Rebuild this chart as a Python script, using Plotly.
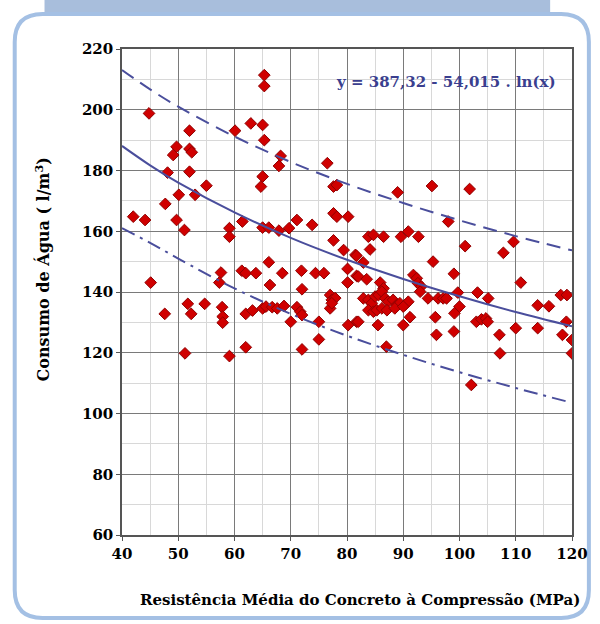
import plotly.graph_objects as go

# ---- data ----
resist = [44.8, 65.3, 65.3, 62.9, 65.0, 60.1, 65.3, 52.0, 52.0, 52.4, 49.7, 49.1, 48.1, 52.0,
          68.2, 67.9, 55.0, 50.1, 53.0, 65.0, 64.7, 47.7, 49.7, 51.1, 42.0, 44.1, 59.1, 59.1,
          61.4, 65.0, 66.1, 67.9, 69.7, 71.1, 73.8, 76.5, 77.6, 78.2, 77.6, 78.2, 80.2, 77.6,
          89.0, 95.1, 101.8, 98.0, 109.6, 83.8, 84.7, 86.5, 89.6, 90.9, 92.7,
          79.4, 81.5, 66.1, 57.6, 57.3, 61.3, 62.0, 63.8, 68.5, 71.9, 74.4, 75.9, 80.1, 80.1,
          81.7, 66.3, 72.0, 45.1, 51.7, 52.3, 47.6, 54.7, 57.8, 57.9, 57.9, 62.0, 63.2, 65.0,
          65.6, 66.7, 67.6, 68.8, 71.1, 71.7, 72.0, 70.0, 75.0, 75.0, 77.0, 77.3, 77.0, 77.9,
          80.2, 81.7, 51.2, 59.1, 62.0, 72.0,
          84.1, 81.7, 82.9, 82.0, 83.5, 85.9, 86.5, 95.3, 101.0, 107.8, 110.9, 99.0,
          91.8, 92.4, 92.6, 93.2, 93.0, 94.4, 96.2, 97.1, 97.7, 99.7, 100.0, 99.1, 103.2, 105.1,
          103.0, 103.9, 104.7, 105.0, 107.1, 107.2, 110.0, 113.9, 115.9, 113.9, 118.0, 119.1,
          119.0, 118.3, 120.0, 120.0, 102.1, 87.0, 95.9, 99.0, 90.0, 91.2, 85.5, 82.0, 95.7,
          82.9, 83.8, 84.4, 85.0, 85.6, 86.2, 86.8, 87.3, 88.2, 88.8, 89.4, 90.3, 90.9,
          83.8, 84.7, 85.3, 86.2, 87.1, 88.5, 90.0, 77.3]
consumo = [198.8, 211.4, 207.8, 195.5, 195.0, 193.1, 190.0, 193.1, 187.1, 186.0, 187.8, 185.1, 179.3, 179.6,
           184.8, 181.5, 175.0, 172.0, 172.0, 178.0, 174.7, 169.0, 163.7, 160.4, 164.8, 163.7, 161.0, 158.2,
           163.2, 161.2, 161.2, 160.2, 161.0, 163.7, 162.1, 182.4, 174.7, 175.2, 165.9, 164.8, 164.8, 157.0,
           172.8, 174.9, 173.9, 163.2, 156.5, 158.2, 158.8, 158.2, 158.2, 159.9, 158.2,
           153.8, 152.2, 149.8, 146.4, 143.1, 147.0, 146.2, 146.2, 146.2, 147.0, 146.2, 146.2, 147.6, 143.1,
           145.3, 142.3, 140.9, 143.1, 136.1, 132.8, 132.8, 136.1, 135.0, 131.9, 129.9, 132.8, 133.9, 134.6,
           135.2, 135.0, 134.6, 135.4, 135.0, 133.5, 132.4, 130.2, 130.2, 124.4, 139.0, 137.4, 134.6, 138.0,
           129.1, 130.2, 119.8, 118.9, 121.8, 121.1,
           154.0, 151.9, 149.7, 145.1, 144.2, 143.1, 141.2, 150.0, 155.1, 152.9, 143.1, 146.0,
           145.6, 144.5, 142.9, 141.8, 140.1, 137.9, 137.9, 137.9, 137.9, 139.8, 135.2, 133.0, 139.8, 137.9,
           130.2, 131.0, 131.3, 130.2, 125.9, 119.8, 128.1, 135.6, 135.3, 128.1, 139.0, 139.0,
           130.2, 125.9, 124.2, 119.8, 109.4, 122.0, 125.9, 127.0, 129.1, 131.7, 129.1, 130.2, 131.7,
           137.9, 137.4, 136.3, 138.5, 139.0, 140.1, 137.9, 136.8, 137.4, 135.7, 136.3, 135.7, 136.8,
           134.0, 133.5, 134.0, 134.6, 134.0, 134.6, 135.2, 136.3]

curve_x = [40, 45, 50, 60, 70, 80, 90, 100, 110, 120]
fit_y = [188.1, 181.7, 176.0, 166.2, 157.8, 150.6, 144.3, 138.6, 133.4, 128.7]
upper_y = [213.1, 206.7, 201.0, 191.2, 182.8, 175.6, 169.3, 163.6, 158.4, 153.7]
lower_x = [40, 45, 50, 60, 70, 80, 90, 100, 110, 119]
lower_y = [161.0, 156.2, 151.0, 141.2, 132.8, 125.6, 119.3, 113.6, 108.4, 104.0]

x_ticks = [40, 50, 60, 70, 80, 90, 100, 110, 120]
y_ticks = [60, 80, 100, 120, 140, 160, 180, 200, 220]

equation = "y = 387,32 - 54,015 . ln(x)"
x_title = "Resistência Média do Concreto à Compressão (MPa)"
y_title = "Consumo de Água ( l/m<sup>3</sup>)"

# ---- figure ----
W, H = 600, 624
ML, MR, MT, MB = 122, 25, 49, 89
PW, PH = W - ML - MR, H - MT - MB


def px(x):
    return (x - ML) / PW


def py(y):
    return (H - MB - y) / PH


LINE = "#4a4e9c"
SERIF = "DejaVu Serif"

fig = go.Figure()
fig.add_trace(go.Scatter(
    x=resist, y=consumo, mode="markers",
    marker=dict(symbol="diamond", size=9, color="#d00000",
                line=dict(color="#900000", width=1)),
    hoverinfo="x+y", showlegend=False))
fig.add_trace(go.Scatter(x=curve_x, y=upper_y, mode="lines", line_shape="spline",
                         line=dict(color=LINE, width=2, dash="14px,8px"), showlegend=False))
fig.add_trace(go.Scatter(x=curve_x, y=fit_y, mode="lines", line_shape="spline",
                         line=dict(color=LINE, width=2), showlegend=False))
fig.add_trace(go.Scatter(x=lower_x, y=lower_y, mode="lines", line_shape="spline",
                         line=dict(color=LINE, width=2, dash="14px,6px,3px,6px"), showlegend=False))

tickfont = dict(family=SERIF, size=15, color="black", weight="bold")
fig.update_xaxes(range=[40, 120], tickvals=x_ticks, ticktext=[str(v) for v in x_ticks],
                 tickfont=tickfont, showgrid=True, gridcolor="#7a7a7a", gridwidth=1.2,
                 showline=True, linecolor="#555", linewidth=1.5, mirror=True,
                 ticks="outside", ticklen=4, tickcolor="#555",
                 minor=dict(dtick=5, tick0=40, showgrid=True, gridcolor="#d8d8d8", gridwidth=1),
                 zeroline=False, fixedrange=True)
fig.update_yaxes(range=[60, 220], tickvals=y_ticks, ticktext=[str(v) for v in y_ticks],
                 tickfont=tickfont, showgrid=True, gridcolor="#7a7a7a", gridwidth=1.2,
                 showline=True, linecolor="#555", linewidth=1.5, mirror=True,
                 ticks="outside", ticklen=4, tickcolor="#555",
                 minor=dict(dtick=10, tick0=60, showgrid=True, gridcolor="#d8d8d8", gridwidth=1),
                 zeroline=False, fixedrange=True)

# frame: top tab + rounded panel border
L, R, T, B, r = 14, 592, 14, 618, 28
path = (f"M {px(L+r)},{py(T)} L {px(R-r)},{py(T)} Q {px(R)},{py(T)} {px(R)},{py(T+r)} "
        f"L {px(R)},{py(B-r)} Q {px(R)},{py(B)} {px(R-r)},{py(B)} "
        f"L {px(L+r)},{py(B)} Q {px(L)},{py(B)} {px(L)},{py(B-r)} "
        f"L {px(L)},{py(T+r)} Q {px(L)},{py(T)} {px(L+r)},{py(T)} Z")
shapes = [
    dict(type="rect", xref="paper", yref="paper", x0=px(44), x1=px(553), y0=py(-2), y1=py(T),
         fillcolor="#a8bedc", line=dict(width=0), layer="below"),
    dict(type="path", xref="paper", yref="paper", path=path,
         line=dict(color="#a4c0e4", width=4), fillcolor="rgba(0,0,0,0)", layer="below"),
]

annotations = [
    dict(text=equation, xref="paper", yref="paper", x=px(448), y=py(82),
         showarrow=False, xanchor="center", yanchor="middle",
         font=dict(family=SERIF, size=15, color="#3b3f8f", weight="bold")),
    dict(text=x_title, xref="paper", yref="paper", x=px(362), y=py(600),
         showarrow=False, xanchor="center", yanchor="middle",
         font=dict(family=SERIF, size=15, color="black", weight="bold")),
    dict(text=y_title, xref="paper", yref="paper", x=px(42), y=py(270), textangle=-90,
         showarrow=False, xanchor="center", yanchor="middle",
         font=dict(family=SERIF, size=16, color="black", weight="bold")),
]

fig.update_layout(width=W, height=H, margin=dict(l=ML, r=MR, t=MT, b=MB),
                  paper_bgcolor="white", plot_bgcolor="white",
                  shapes=shapes, annotations=annotations, showlegend=False)

fig.write_html("out.html", include_plotlyjs=True, config={"displayModeBar": False})
